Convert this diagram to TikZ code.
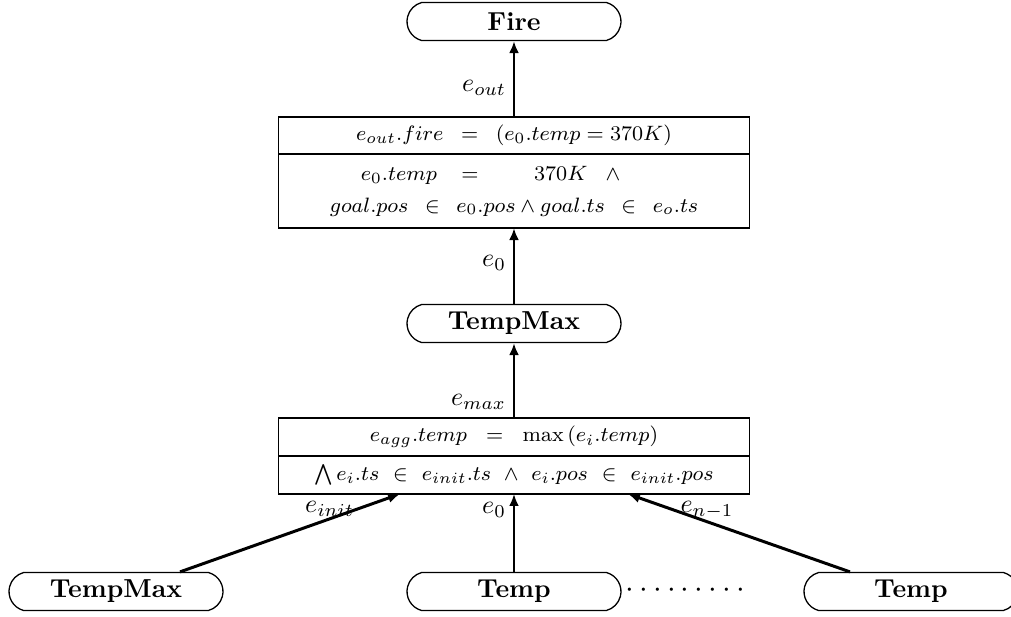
\documentclass[tikz,border=0pt]{standalone}
\usepackage{amsmath}
\usetikzlibrary{shapes.misc,arrows.meta,calc}
\begin{document}
\begin{tikzpicture}[x=0.3846pt,y=-0.3846pt,
  event/.style={rounded rectangle, rounded rectangle arc length=150, draw, line width=0.5pt,
    minimum width=82.3pt, minimum height=14.6pt, inner sep=0pt, font=\bfseries},
  row/.style={rectangle, draw, line width=0.5pt, minimum width=181.2pt, inner sep=0pt,
    align=center, font=\footnotesize, outer sep=0pt},
  flow/.style={line width=1.15pt, -{Latex[length=4.6pt,width=3.8pt]}},
  lbl/.style={inner sep=2.5pt}
]
\useasboundingbox (0,0) rectangle (1011,616);

% top event
\node[event] (fire) at (514,21.5) {Fire};

% condition box of the Fire operator
\node[row, minimum height=14.2pt] (out1) at (514,135.5)
  {$e_{out}.fire\hspace{4.4pt}=\hspace{4.4pt}(e_0.temp = 370K)$};
\node[row, minimum height=28.5pt, anchor=north] (out2) at (out1.south)
  {$e_0.temp\hspace{7pt}=\hspace{19pt}370K\hspace{7pt}\wedge\hspace{18pt}$\\[2.8pt]
   $goal.pos\hspace{4pt}\in\hspace{4pt}e_0.pos \wedge goal.ts\hspace{4pt}\in\hspace{4pt}e_o.ts$};

% intermediate event
\node[event] (tmx) at (514,323.5) {TempMax};

% condition box of the aggregation operator
\node[row, minimum height=14.6pt] (agg1) at (514,437)
  {$e_{agg}.temp\hspace{5pt}=\hspace{5pt}\max{(e_i.temp)}$};
\node[row, minimum height=14.6pt, anchor=north] (agg2) at (agg1.south)
  {$\bigwedge e_i.ts\hspace{3pt}\in\hspace{3pt}e_{init}.ts\hspace{3pt}\wedge\hspace{3pt}e_i.pos\hspace{3pt}\in\hspace{3pt}e_{init}.pos$};

% input events
\node[event] (tm0) at (116,591.5) {TempMax};
\node[event] (t0) at (514,591.5) {Temp};
\node[event] (tn) at (911,591.5) {Temp};
\node[inner sep=0pt, font=\large] (dots) at (688,591) {$\cdots\cdots\cdots$};

% connectors
\draw[flow] (out1.north) -- node[lbl,pos=0.38,left] {$e_{out}$} (fire.south);
\draw[flow] (tmx.north) -- node[lbl,pos=0.54,left] {$e_0$} (out2.south);
\draw[flow] (agg1.north) -- node[lbl,pos=0.21,left] {$e_{max}$} (tmx.south);

\coordinate (initstart) at ($(tm0.north)+(64,0)$);
\coordinate (initend) at ($(agg2.south)+(-114,0)$);
\coordinate (laststart) at ($(tn.north)+(-61,0)$);
\coordinate (lastend) at ($(agg2.south)+(114,0)$);

\draw[flow] (initstart) -- node[pos=0.68,anchor=south,inner sep=0.5pt] {$e_{init}$} (initend);
\draw[flow] (t0.north) -- node[lbl,pos=0.79,left] {$e_0$} (agg2.south);
\draw[flow] (laststart) -- node[pos=0.644,anchor=south,inner sep=0.5pt] {$e_{n-1}$} (lastend);
\end{tikzpicture}
\end{document}
